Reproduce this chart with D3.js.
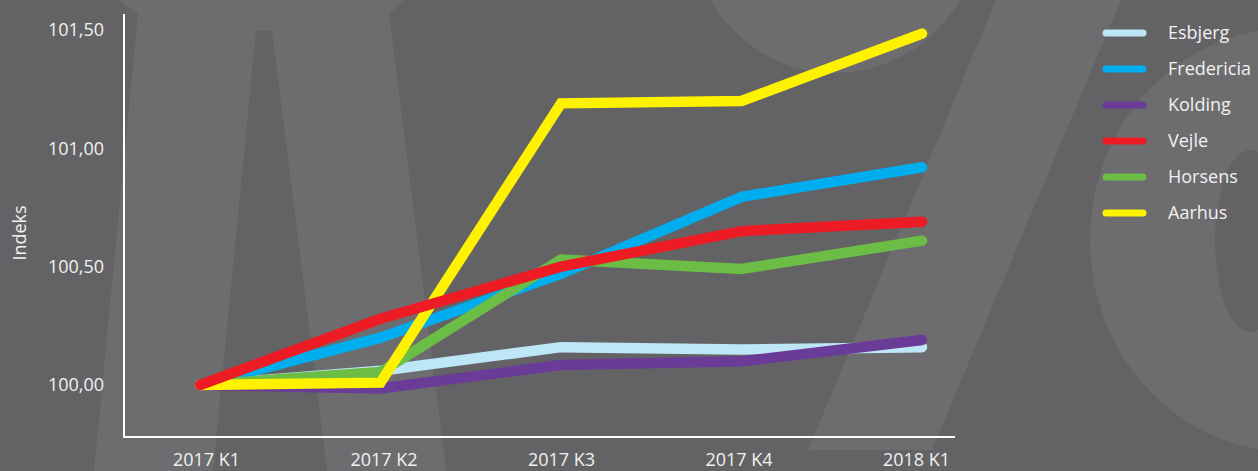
<!DOCTYPE html>
<html><head><meta charset="utf-8">
<script src="https://cdn.jsdelivr.net/npm/d3@7"></script>
<style>
body{margin:0;background:#636365;overflow:hidden;}
text{font-family:"Open Sans",sans-serif;}
</style>
</head><body><svg id="c" width="1258" height="471"></svg>
<script>
// ---- data ----
const quarters = ["2017 K1","2017 K2","2017 K3","2017 K4","2018 K1"];
const cities = ["Esbjerg","Fredericia","Kolding","Vejle","Horsens","Aarhus"];
const esbjerg    = [100.00, 100.06, 100.16, 100.15, 100.16];
const fredericia = [100.00, 100.20, 100.47, 100.795, 100.92];
const kolding    = [100.00, 99.985, 100.085, 100.10, 100.19];
const vejle      = [100.00, 100.28, 100.50, 100.65, 100.69];
const horsens    = [100.00, 100.055, 100.53, 100.49, 100.61];
const aarhus     = [100.00, 100.01, 101.19, 101.20, 101.485];
const yTicks = [100.0, 100.5, 101.0, 101.5];
const cityColors = ["#bde6f6","#00aeef","#6a3b97","#ed1c24","#6cbd45","#fff200"];
const drawOrder = ["Esbjerg","Kolding","Fredericia","Horsens","Aarhus","Vejle"];

const values = {Esbjerg:esbjerg, Fredericia:fredericia, Kolding:kolding, Vejle:vejle, Horsens:horsens, Aarhus:aarhus};
const colorOf = d3.scaleOrdinal().domain(cities).range(cityColors);

const svg = d3.select("#c");
const light = "#6d6d6f", dark = "#636365";

// ---- background watermark ----
const bg = svg.append("g");
bg.append("rect").attr("width",1258).attr("height",471).attr("fill",dark);
bg.append("path").attr("fill",light)
  .attr("d","M120,0 L405,0 Q395,8 389,14 L446,471 L94,471 L138,14 Q128,8 120,0 Z");
bg.append("path").attr("fill",dark)
  .attr("d","M256,31 L272,31 L327,471 L213,471 Z");
bg.append("circle").attr("cx",835).attr("cy",-70).attr("r",143).attr("fill",light);
bg.append("path").attr("fill",light)
  .attr("d","M996,0 L1121,0 L932,450 L808,450 Z");
bg.append("ellipse").attr("cx",1290).attr("cy",240).attr("rx",200).attr("ry",212).attr("fill",light);
bg.append("ellipse").attr("cx",1250).attr("cy",241).attr("rx",35).attr("ry",91).attr("fill",dark);

// ---- scales ----
const x = d3.scalePoint().domain(quarters).range([200, 922]);
const xLab = d3.scalePoint().domain(quarters).range([206, 916]);
const y = d3.scaleLinear().domain([100, 101.5]).range([385, 30]);
const locale = d3.formatLocale({decimal:",", thousands:".", grouping:[3], currency:["","kr"]});
const fmt = locale.format(".2f");

const txt = "#f1f1f1";

// ---- axes ----
const gy = svg.append("g").attr("transform","translate(124,0)")
  .call(d3.axisLeft(y).tickValues(yTicks).tickSize(0).tickPadding(20).tickFormat(fmt));
gy.select(".domain").remove();
gy.selectAll("text").attr("fill",txt).style("font-size","18px").style("font-family","'Open Sans',sans-serif");

const gx = svg.append("g").attr("transform","translate(0,437)")
  .call(d3.axisBottom(xLab).tickSize(0).tickPadding(16));
gx.select(".domain").remove();
gx.selectAll("text").attr("fill",txt).style("font-size","18px").style("font-family","'Open Sans',sans-serif");

svg.append("line").attr("x1",124).attr("x2",124).attr("y1",14).attr("y2",438)
  .attr("stroke","#fff").attr("stroke-width",2);
svg.append("line").attr("x1",123).attr("x2",955).attr("y1",437).attr("y2",437)
  .attr("stroke","#fff").attr("stroke-width",2);

svg.append("text").attr("transform","translate(26,233) rotate(-90)")
  .attr("text-anchor","middle").attr("fill",txt).style("font-size","18px").text("Indeks");

// ---- lines ----
const line = d3.line().x((d,i)=>x(quarters[i])).y(d=>y(d));
svg.append("g").selectAll("path").data(drawOrder).join("path")
  .attr("d", c => line(values[c]))
  .attr("fill","none").attr("stroke", c => colorOf(c))
  .attr("stroke-width",10.5).attr("stroke-linejoin","miter").attr("stroke-linecap","round");

// ---- legend ----
const lg = svg.append("g");
const row = d3.scalePoint().domain(cities).range([33, 213]);
const items = lg.selectAll("g").data(cities).join("g")
  .attr("transform", c => `translate(0,${row(c)})`);
items.append("line").attr("x1",1106).attr("x2",1143).attr("y1",0).attr("y2",0)
  .attr("stroke", c => colorOf(c)).attr("stroke-width",7).attr("stroke-linecap","round");
items.append("text").attr("x",1168).attr("dy","0.35em").attr("fill",txt)
  .style("font-size","18px").text(c => c);
</script>
</body></html>
